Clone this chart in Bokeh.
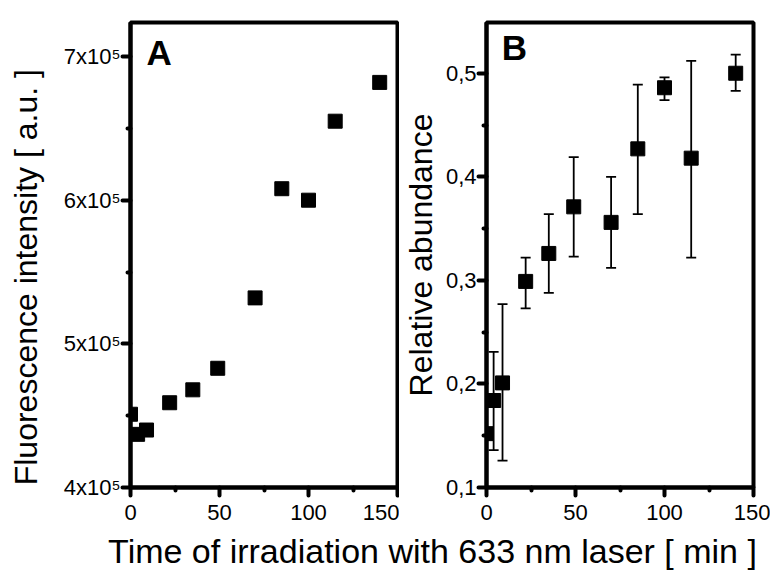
from bokeh.plotting import figure
from bokeh.models import (ColumnDataSource, FixedTicker, Whisker, TeeHead)
from bokeh.core.properties import value
from bokeh.layouts import column, row
from bokeh.embed import file_html
from bokeh.resources import INLINE

# ---- data ----
time_min = [0, 4, 9, 22, 35, 49, 70, 85, 100, 115, 140]
fluorescence = [451000, 437000, 440000, 459000, 468000, 483000, 532000, 608000, 600000, 655000, 682000]
abundance = [0.152, 0.184, 0.201, 0.299, 0.326, 0.371, 0.356, 0.427, 0.486, 0.418, 0.500]
abund_upper = [0.152, 0.231, 0.277, 0.322, 0.364, 0.419, 0.400, 0.489, 0.496, 0.512, 0.518]
abund_lower = [0.152, 0.136, 0.126, 0.273, 0.288, 0.323, 0.312, 0.364, 0.474, 0.322, 0.483]

x_ticks = [0, 50, 100, 150]
x_minor = [25, 75, 125]
a_ticks = [400000, 500000, 600000, 700000]
a_minor = [450000, 550000, 650000]
a_labels = {400000: "4x10\u2075", 500000: "5x10\u2075", 600000: "6x10\u2075", 700000: "7x10\u2075"}
b_ticks = [0.1, 0.2, 0.3, 0.4, 0.5]
b_minor = [0.15, 0.25, 0.35, 0.45]
b_labels = {0.1: "0,1", 0.2: "0,2", 0.3: "0,3", 0.4: "0,4", 0.5: "0,5"}

panel_a_tag = ["A"]
panel_b_tag = ["B"]
y_label_a = "Fluorescence intensity [ a.u. ]"
y_label_b = "Relative abundance"
x_label = ["Time of irradiation with 633 nm laser [ min ]"]

FONT = "Liberation Sans"
TICK_FS = "22px"
LAB_FS = "32px"


def style(p):
    p.outline_line_color = "black"
    p.outline_line_width = 4
    p.xgrid.visible = False
    p.ygrid.visible = False
    p.background_fill_color = "white"
    p.border_fill_color = "white"
    for ax in (p.xaxis[0], p.yaxis[0]):
        ax.axis_line_width = 4
        ax.axis_line_color = "black"
        ax.major_tick_in = 0
        ax.major_tick_out = 8
        ax.major_tick_line_width = 4
        ax.major_tick_line_cap = "round"
        ax.minor_tick_in = 0
        ax.minor_tick_out = 3
        ax.minor_tick_line_width = 4
        ax.minor_tick_line_cap = "round"
        ax.major_label_text_font = FONT
        ax.major_label_text_font_size = TICK_FS
        ax.major_label_text_color = "black"
        ax.axis_label_text_font = FONT
        ax.axis_label_text_font_size = LAB_FS
        ax.axis_label_text_font_style = "normal"
        ax.axis_label_text_color = "black"
    p.xaxis[0].ticker = FixedTicker(ticks=x_ticks, minor_ticks=x_minor)
    p.xaxis[0].major_label_standoff = 9
    p.yaxis[0].major_label_standoff = 2


# ---- panel A ----
pA = figure(width=399, height=530, x_range=(0, 150), y_range=(400000, 723700),
            output_backend="svg", toolbar_location=None, title=None,
            min_border_left=130, min_border_right=2, min_border_top=18, min_border_bottom=43)
style(pA)
pA.yaxis[0].ticker = FixedTicker(ticks=a_ticks, minor_ticks=a_minor)
pA.yaxis[0].major_label_overrides = a_labels
pA.yaxis[0].axis_label = y_label_a + "\u00a0" * 5
pA.yaxis[0].axis_label_standoff = 17
srcA = ColumnDataSource(dict(t=time_min, f=fluorescence))
pA.scatter("t", "f", source=srcA, marker="square", size=14, color="black")
pA.text(x=[9], y=[702700], text=panel_a_tag, text_font=value(FONT), text_font_size="35px",
        text_font_style="bold", text_color="black",
        text_baseline="alphabetic", text_align="left")

# ---- panel B ----
pB = figure(width=371, height=530, x_range=(0, 150), y_range=(0.1, 0.549),
            output_backend="svg", toolbar_location=None, title=None,
            min_border_left=87, min_border_right=17, min_border_top=22, min_border_bottom=39)
style(pB)
pB.yaxis[0].ticker = FixedTicker(ticks=b_ticks, minor_ticks=b_minor)
pB.yaxis[0].major_label_overrides = b_labels
pB.yaxis[0].axis_label = y_label_b
pB.yaxis[0].axis_label_standoff = 4
srcB = ColumnDataSource(dict(t=time_min, a=abundance, up=abund_upper, lo=abund_lower))
pB.add_layout(Whisker(source=srcB, base="t", upper="up", lower="lo", line_width=1.8,
                      line_color="black",
                      upper_head=TeeHead(size=10, line_width=1.8, line_color="black"),
                      lower_head=TeeHead(size=10, line_width=1.8, line_color="black")))
pB.scatter("t", "a", source=srcB, marker="square", size=14, color="black")
pB.text(x=[8.5], y=[0.5249], text=panel_b_tag, text_font=value(FONT), text_font_size="35px",
        text_font_style="bold", text_color="black",
        text_baseline="alphabetic", text_align="left")

# ---- shared x label ----
pX = figure(width=770, height=45, x_range=(0, 770), y_range=(0, 45),
            output_backend="svg", toolbar_location=None, title=None,
            min_border=0, outline_line_color=None)
pX.axis.visible = False
pX.grid.visible = False
pX.text(x=[432], y=[25], text=x_label, text_font=value(FONT), text_font_size="34px",
        text_align="center", text_color="black", text_baseline="alphabetic")

layout = column(row(pA, pB, spacing=0), pX, spacing=0)
open("out.html", "w").write(file_html(layout, INLINE))
